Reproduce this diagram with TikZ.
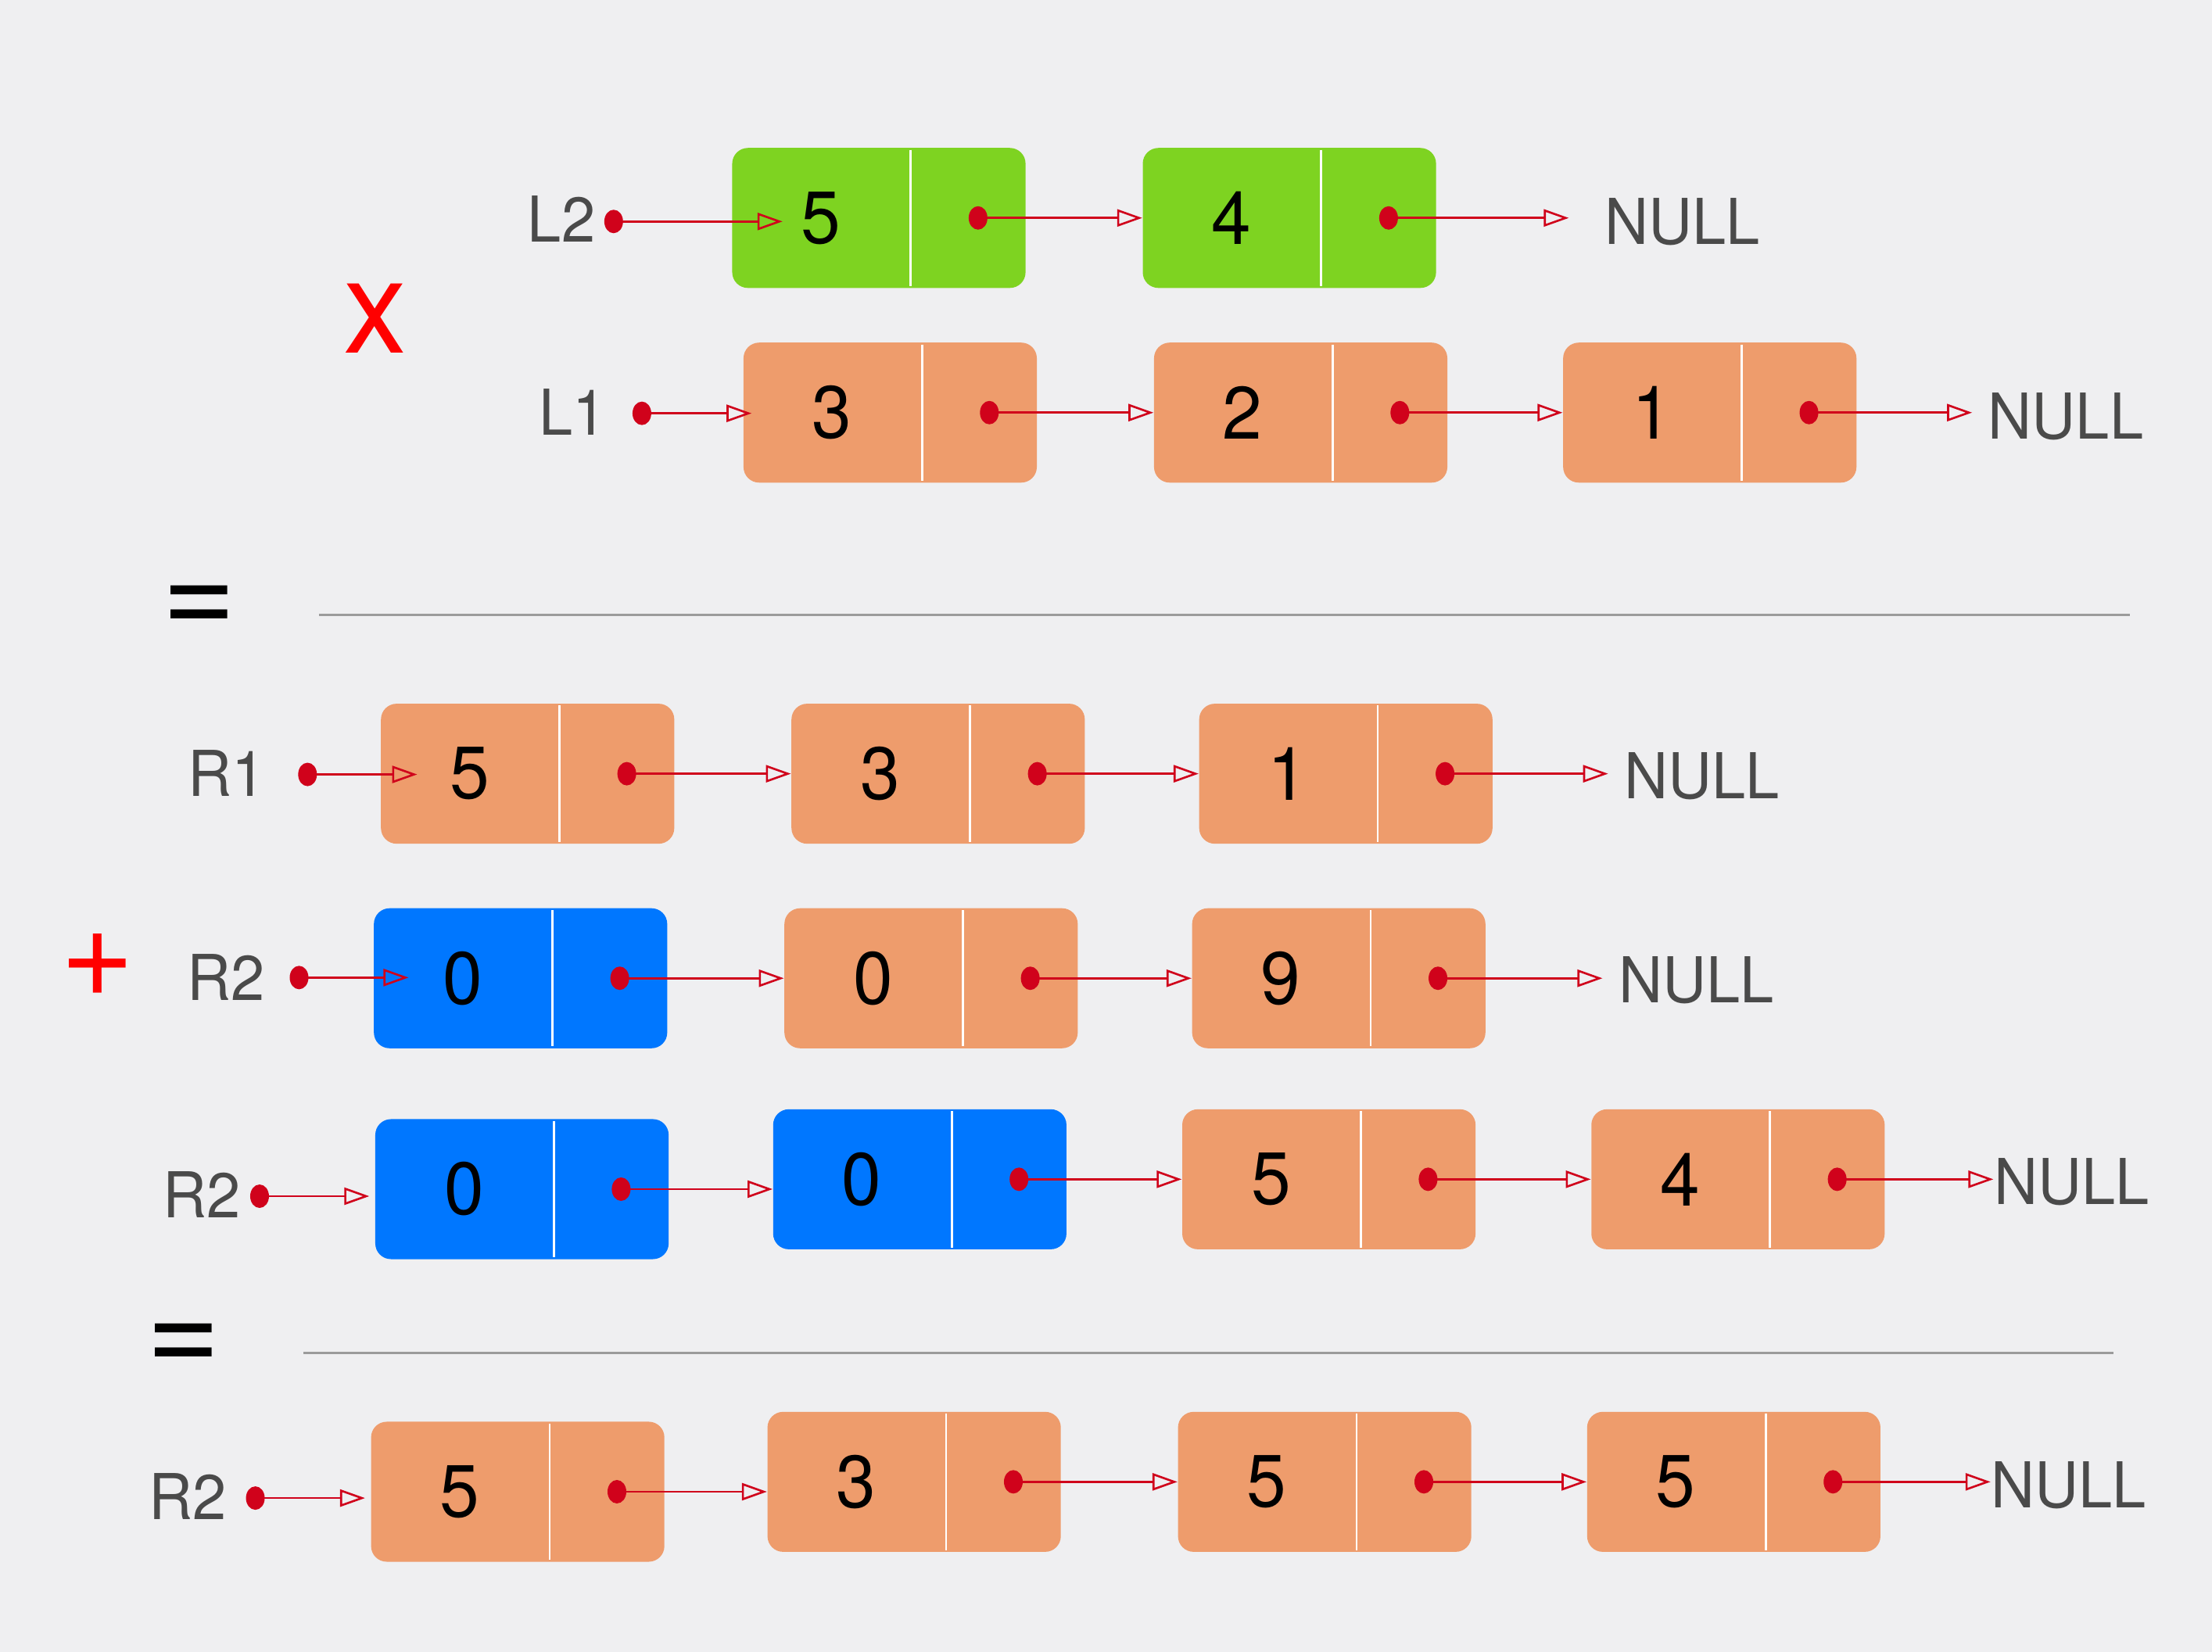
\documentclass[tikz,border=0pt]{standalone}
\usepackage{fontspec}
\setmainfont{TeX Gyre Heros}[FakeStretch=0.96]
\usetikzlibrary{arrows.meta}
\usetikzlibrary{calc}

\definecolor{bg}{HTML}{EFEFF1}
\definecolor{nodeorange}{HTML}{EE9C6C}
\definecolor{nodegreen}{HTML}{7ED321}
\definecolor{nodeblue}{HTML}{0077FF}
\definecolor{linkred}{HTML}{D0021B}
\definecolor{textgray}{HTML}{4A4A4A}
\definecolor{rulegray}{HTML}{9B9B9B}

\tikzset{
  cellbox/.style={rounded corners=0.2cm, minimum width=3.75cm, minimum height=1.79cm, inner sep=0pt},
  digit/.style={inner sep=0pt, font=\fontsize{27}{32}\selectfont},
  lbl/.style={inner sep=0pt, text=textgray, font=\fontsize{23}{27}\selectfont},
  nulltext/.style={anchor=west, inner sep=0pt, text=textgray, font=\fontsize{23}{27}\selectfont},
  link/.style={draw=linkred, line width=0.75pt, -{Triangle[open, length=0.32cm, width=0.22cm]}},
  opsign/.style={inner sep=0pt, font=\fontsize{48}{54}\selectfont}
}

% one list cell: name, x, y, value, colour
\newcommand{\listcell}[5]{%
  \node[cellbox, fill=#5] (#1) at (#2,#3) {};
  \draw[white, line width=0.8pt] ([xshift=2.29cm,yshift=-0.03cm]#1.north west) -- ([xshift=2.29cm,yshift=0.03cm]#1.south west);
  \node[digit] (#1v) at ([xshift=1.14cm]#1.west) {#4};
  \coordinate (#1p) at ([xshift=3.15cm]#1.west);
  \fill[linkred] (#1p) ellipse (0.12cm and 0.15cm);
}
\newcommand{\headdot}[3]{%
  \coordinate (#1) at (#2,#3);
  \fill[linkred] (#1) ellipse (0.12cm and 0.15cm);
}

\begin{document}
\begin{tikzpicture}[x={(0.01804cm,0)}, y={(0,-0.01804cm)}]
  % Background
  \fill[bg] (0,0) rectangle (1568,1171);

  % L2
  \node[lbl] (L2) at (398,155) {L2};
  \headdot{L2p}{435}{157}
  \listcell{A1}{623}{154.5}{5}{nodegreen}
  \listcell{A2}{914}{154.5}{4}{nodegreen}
  \node[nulltext] (N1) at (1137,157) {NULL};
  \draw[link] (L2p) -- ($(L2p -| A1.west)+(0.65cm,0)$);
  \draw[link] (A1p) -- (A1p -| A2.west);
  \draw[link] (A2p) -- ($(A2p -| N1.west)+(-0.45cm,0)$);

  \node[opsign, text=red] (times) at (266,226) {x};

  % L1
  \node[lbl] (L1) at (406,292) {L1};
  \headdot{L1p}{455}{293}
  \listcell{B1}{631}{292.5}{3}{nodeorange}
  \listcell{B2}{922}{292.5}{2}{nodeorange}
  \listcell{B3}{1212}{292.5}{1}{nodeorange}
  \node[nulltext] (N2) at (1409,295) {NULL};
  \draw[link] (L1p) -- ($(L1p -| B1.west)+(0.11cm,0)$);
  \draw[link] (B1p) -- (B1p -| B2.west);
  \draw[link] (B2p) -- (B2p -| B3.west);
  \draw[link] (B3p) -- ($(B3p -| N2.west)+(-0.2cm,0)$);

  % first result
  \node[opsign] (eq1) at (141,433) {=};
  \draw[rulegray, line width=0.7pt] (226,436) -- (1510,436);

  % R1
  \node[lbl] (R1) at (161,548) {R1};
  \headdot{R1p}{218}{549}
  \listcell{C1}{374}{548.5}{5}{nodeorange}
  \listcell{C2}{665}{548.5}{3}{nodeorange}
  \listcell{C3}{954}{548.5}{1}{nodeorange}
  \node[nulltext] (N3) at (1151,550) {NULL};
  \draw[link] (R1p) -- ($(R1p -| C1.west)+(0.47cm,0)$);
  \draw[link] (C1p) -- (C1p -| C2.west);
  \draw[link] (C2p) -- (C2p -| C3.west);
  \draw[link] (C3p) -- ($(C3p -| N3.west)+(-0.2cm,0)$);

  % R2
  \node[opsign, text=red] (plus) at (69,684) {+};
  \node[lbl] (R2) at (160,693) {R2};
  \headdot{R2p}{212}{693}
  \listcell{D1}{369}{693.5}{0}{nodeblue}
  \listcell{D2}{660}{693.5}{0}{nodeorange}
  \listcell{D3}{949}{693.5}{9}{nodeorange}
  \node[nulltext] (N4) at (1147,695) {NULL};
  \draw[link] (R2p) -- ($(R2p -| D1.west)+(0.45cm,0)$);
  \draw[link] (D1p) -- (D1p -| D2.west);
  \draw[link] (D2p) -- (D2p -| D3.west);
  \draw[link] (D3p) -- ($(D3p -| N4.west)+(-0.2cm,0)$);

  % R2 shifted
  \node[lbl] (R2s) at (143,847) {R2};
  \headdot{R2sp}{184}{848}
  \listcell{E1}{370}{843}{0}{nodeblue}
  \listcell{E2}{652}{836}{0}{nodeblue}
  \listcell{E3}{942}{836}{5}{nodeorange}
  \listcell{E4}{1232}{836}{4}{nodeorange}
  \node[nulltext] (N5) at (1413,838) {NULL};
  \draw[link] (R2sp) -- ($(R2sp -| E1.west)+(-0.07cm,0)$);
  \draw[link] (E1p) -- (E1p -| E2.west);
  \draw[link] (E2p) -- (E2p -| E3.west);
  \draw[link] (E3p) -- (E3p -| E4.west);
  \draw[link] (E4p) -- (E4p -| N5.west);

  % final result
  \node[opsign] (eq2) at (130,956) {=};
  \draw[rulegray, line width=0.7pt] (215,959) -- (1498,959);

  \node[lbl] (R2r) at (133,1061) {R2};
  \headdot{R2rp}{181}{1062}
  \listcell{F1}{367}{1057.5}{5}{nodeorange}
  \listcell{F2}{648}{1050.5}{3}{nodeorange}
  \listcell{F3}{939}{1050.5}{5}{nodeorange}
  \listcell{F4}{1229}{1050.5}{5}{nodeorange}
  \node[nulltext] (N6) at (1411,1053) {NULL};
  \draw[link] (R2rp) -- ($(R2rp -| F1.west)+(-0.07cm,0)$);
  \draw[link] (F1p) -- (F1p -| F2.west);
  \draw[link] (F2p) -- (F2p -| F3.west);
  \draw[link] (F3p) -- (F3p -| F4.west);
  \draw[link] (F4p) -- (F4p -| N6.west);
\end{tikzpicture}
\end{document}
